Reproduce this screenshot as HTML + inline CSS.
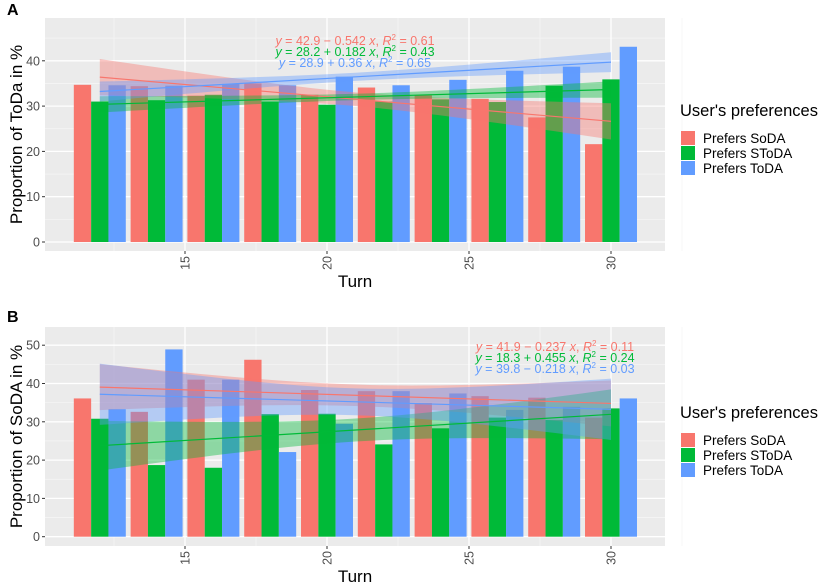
<!DOCTYPE html>
<html><head><meta charset="utf-8"><style>
html,body{margin:0;padding:0;background:#fff;}
svg{display:block;font-family:"Liberation Sans",Arial,sans-serif;}
</style></head><body>
<svg id="chart" width="829" height="584" xmlns="http://www.w3.org/2000/svg"></svg>
<script>
// ---- data ----
const turns = [12,14,16,18,20,22,24,26,28,30];
const seriesNames = ["Prefers SoDA","Prefers SToDA","Prefers ToDA"];
const colors = ["#F8766D","#00BA38","#619CFF"];
const aSoda  = [34.7,34.4,32.3,35.0,32.5,34.1,32.4,31.6,27.5,21.6];
const aStoda = [31.0,31.3,32.5,31.0,30.3,31.0,31.5,30.9,34.5,35.9];
const aToda  = [34.6,34.5,34.9,34.6,36.5,34.6,35.8,37.8,38.7,43.1];
const bSoda  = [36.1,32.6,41.0,46.2,38.3,38.0,34.9,36.7,36.3,31.1];
const bStoda = [30.8,18.7,18.0,32.0,32.1,24.1,28.3,31.1,30.5,33.5];
const bToda  = [33.3,48.9,41.0,22.1,29.5,38.0,37.4,33.1,33.9,36.1];
const aIntercepts = [42.9,28.2,28.9];
const aSlopes = [-0.542,0.182,0.36];
const aR2 = ["0.61","0.43","0.65"];
const aCiEnd = [4.0,1.8,2.2];
const aCiMid = [1.5,0.7,0.9];
const bIntercepts = [41.9,18.3,39.8];
const bSlopes = [-0.237,0.455,-0.218];
const bR2 = ["0.11","0.24","0.03"];
const bCiEnd = [6.0,6.5,8.0];
const bCiMid = [2.8,3.0,3.5];
const aTicks = [0,10,20,30,40];
const bTicks = [0,10,20,30,40,50];
const xTicks = [15,20,25,30];

const NS="http://www.w3.org/2000/svg";
const svg=document.getElementById('chart');
function el(tag,attrs,parent,text){
  const e=document.createElementNS(NS,tag);
  for(const k in attrs)e.setAttribute(k,attrs[k]);
  if(text!==undefined)e.textContent=text;
  (parent||svg).appendChild(e);return e;
}

function panel(p){
  const g=el('g',{});
  
  
  const X=v=>185+(v-15)*28.4;
  const Y=v=>p.y0-v*p.py;
  const bg=el('rect',{x:45,y:p.top,width:620,height:p.bottom-p.top,fill:'#EBEBEB'},g);
  
  
  for(let v=5;Y(v)>p.top;v+=10){
    const l=el('line',{x1:45,x2:665,y1:Y(v),y2:Y(v),stroke:'#F5F5F5','stroke-width':0.8},g);
    
    
  }
  for(let v=12.5;v<=32.5;v+=5){
    const l=el('line',{x1:X(v),x2:X(v),y1:p.top,y2:p.bottom,stroke:'#F5F5F5','stroke-width':0.8},g);
    
    
  }
  p.ticks.forEach(t=>{
    const l=el('line',{x1:45,x2:665,y1:Y(t),y2:Y(t),stroke:'#fff','stroke-width':1.3},g);
    
    
    const tk=el('line',{x1:42,x2:45,y1:Y(t),y2:Y(t),stroke:'#333','stroke-width':1},g);
    
    
    const tx=el('text',{x:40,y:Y(t)+4.5,'text-anchor':'end','font-size':12.5,fill:'#4D4D4D'},g,String(t));
    
    
  });
  xTicks.forEach(t=>{
    const l=el('line',{x1:X(t),x2:X(t),y1:p.top,y2:p.bottom,stroke:'#fff','stroke-width':1.3},g);
    
    
    const tk=el('line',{x1:X(t),x2:X(t),y1:p.bottom,y2:p.bottom+3,stroke:'#333','stroke-width':1},g);
    
    
    const tx=el('text',{x:0,y:0,'text-anchor':'end','font-size':12.5,fill:'#4D4D4D',transform:`translate(${X(t)+4.5},${p.bottom+5}) rotate(-90)`},g,String(t));
    
    
  });
  const bw=0.61;
  p.series.forEach((vals,si)=>{
    vals.forEach((v,i)=>{
      const x0=X(turns[i]-0.915+si*bw);
      const r=el('rect',{x:x0,y:Y(v),width:bw*28.4,height:Y(0)-Y(v),fill:colors[si]},g);
      
      
    });
  });
  const xs=[];for(let x=12;x<=30.001;x+=0.5)xs.push(x);
  p.icpt.forEach((a,si)=>{
    const b=p.slope[si];
    const hw=x=>{const d=(x-21)/9;return Math.sqrt(p.ciMid[si]**2+(p.ciEnd[si]**2-p.ciMid[si]**2)*d*d);};
    let up=xs.map(x=>`${X(x)},${Y(a+b*x+hw(x))}`);
    let lo=xs.slice().reverse().map(x=>`${X(x)},${Y(a+b*x-hw(x))}`);
    const band=el('polygon',{points:up.concat(lo).join(' '),fill:colors[si],'fill-opacity':0.4},g);
    
    
  });
  p.icpt.forEach((a,si)=>{
    const b=p.slope[si];
    const ln=el('line',{x1:X(12),y1:Y(a+b*12),x2:X(30),y2:Y(a+b*30),stroke:colors[si],'stroke-width':1.2},g);
    
    
  });
  p.icpt.forEach((a,si)=>{
    const b=p.slope[si];
    const sign=b<0?'\u2212':'+';
    const t=el('text',{x:p.eqX,y:p.eqY+si*11,'text-anchor':'middle','font-size':12.5,fill:colors[si]},g);
    
    
    el('tspan',{'font-style':'italic'},t,'y');
    el('tspan',{},t,` = ${a} ${sign} ${Math.abs(b)} `);
    el('tspan',{'font-style':'italic'},t,'x');
    el('tspan',{},t,', ');
    el('tspan',{'font-style':'italic'},t,'R');
    el('tspan',{'font-size':8,dy:-5},t,'2');
    el('tspan',{dy:5},t,' = '+p.r2[si]);
  });
  const yt=el('text',{x:0,y:0,'text-anchor':'middle','font-size':17,fill:'#000',transform:`translate(22,${(p.top+p.bottom)/2}) rotate(-90)`},g,p.ytitle);
  
  
  const xt=el('text',{x:355,y:p.bottom+36,'text-anchor':'middle','font-size':17,fill:'#000'},g,'Turn');
  
  
  const pl=el('text',{x:7,y:p.labelY,'font-size':16,'font-weight':'bold',fill:'#000'},g,p.label);
  
  
  const lg=el('g',{},g);
  
  
  const lt=el('text',{x:680,y:p.legY,'font-size':16.5,fill:'#000'},lg,"User's preferences");
  
  
  seriesNames.forEach((n,si)=>{
    const k=el('rect',{x:681,y:p.legY+15+si*15,width:14,height:14,fill:colors[si]},lg);
    
    
    const lx=el('text',{x:703,y:p.legY+27+si*15,'font-size':13.5,fill:'#000'},lg,n);
    
    
  });
}

panel({name:'panel-a',top:18,bottom:251,y0:242,py:4.53,ticks:aTicks,
  series:[aSoda,aStoda,aToda],icpt:aIntercepts,slope:aSlopes,r2:aR2,ciEnd:aCiEnd,ciMid:aCiMid,
  eqX:355,eqY:45,ytitle:'Proportion of ToDa in %',label:'A',labelY:15,legY:116});
panel({name:'panel-b',top:327,bottom:546,y0:536.7,py:3.83,ticks:bTicks,
  series:[bSoda,bStoda,bToda],icpt:bIntercepts,slope:bSlopes,r2:bR2,ciEnd:bCiEnd,ciMid:bCiMid,
  eqX:555,eqY:351,ytitle:'Proportion of SoDA in %',label:'B',labelY:322,legY:418});
</script>
</body></html>
